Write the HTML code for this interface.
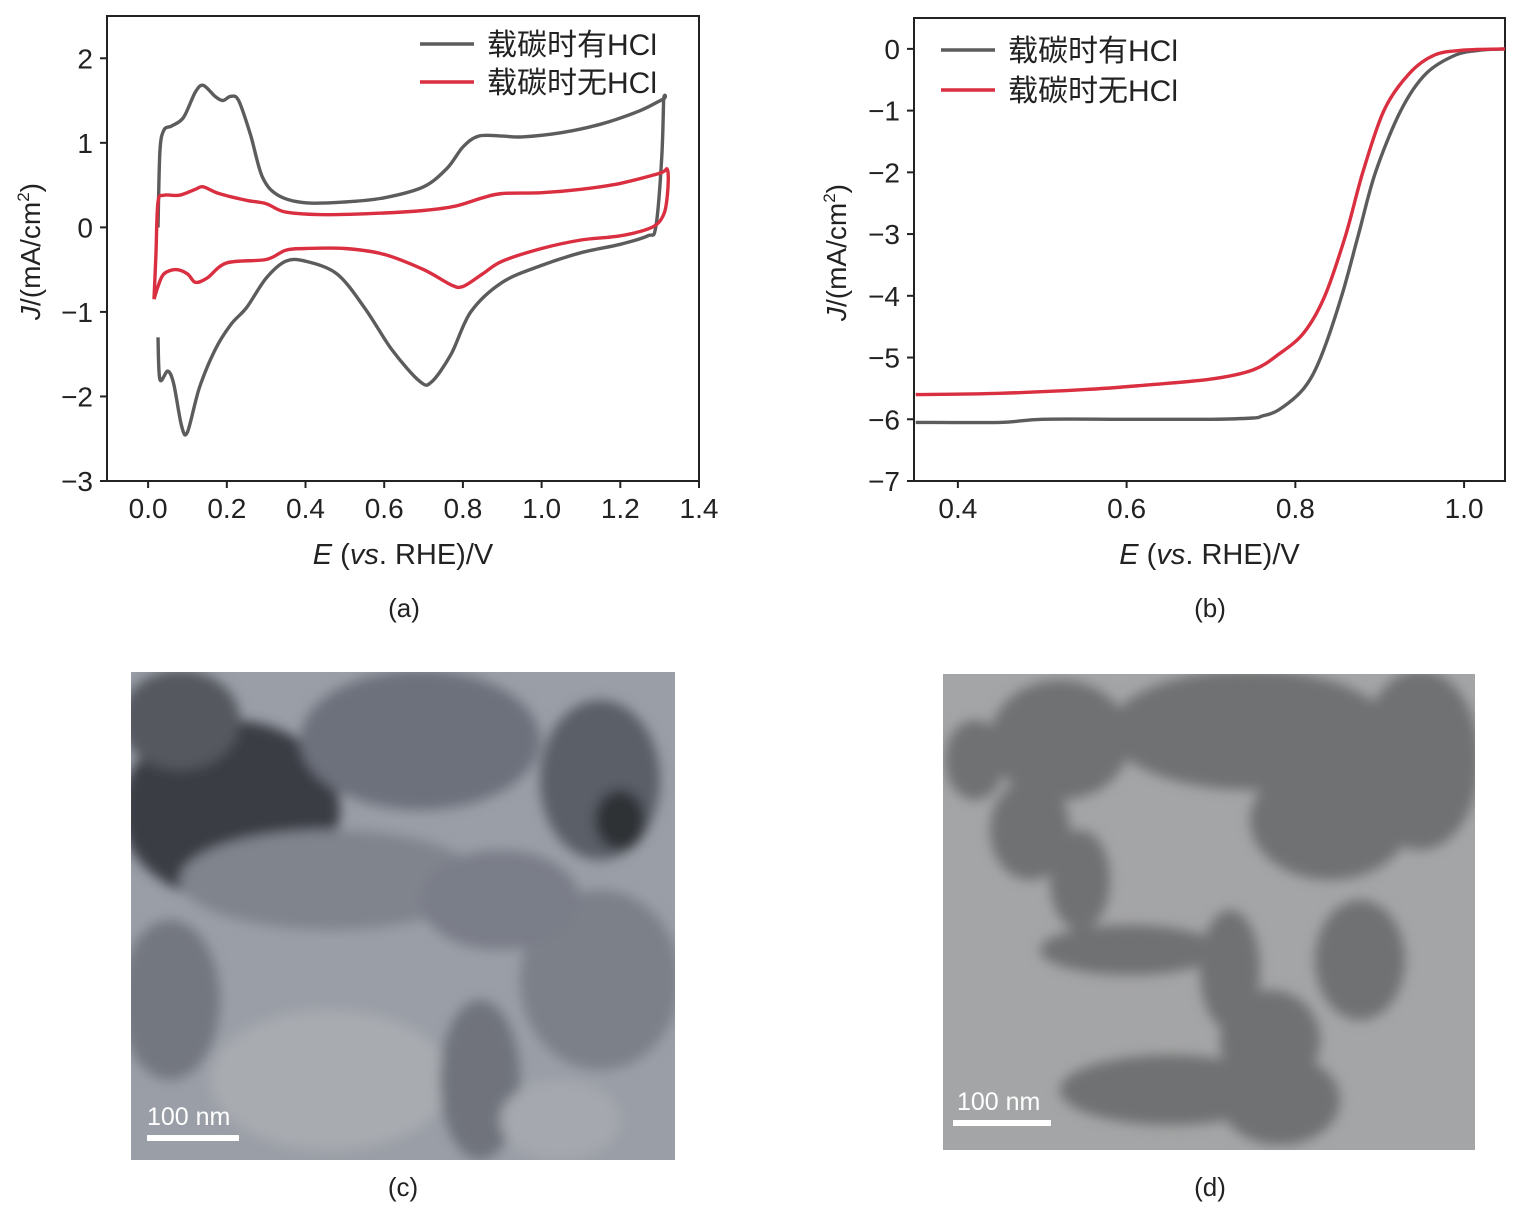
<!DOCTYPE html>
<html><head><meta charset="utf-8"><style>
body{margin:0;background:#fff;}
svg text{font-family:"Liberation Sans","Noto Sans CJK SC",sans-serif;fill:#222;}
</style></head><body>
<svg id="fig" width="1519" height="1210" viewBox="0 0 1519 1210" xmlns="http://www.w3.org/2000/svg">
<defs>
<filter id="blur6"><feGaussianBlur stdDeviation="6"/></filter>
<clipPath id="clipA"><rect x="107" y="16" width="592" height="465"/></clipPath>
<clipPath id="clipB"><rect x="914" y="18" width="591" height="463"/></clipPath>
<clipPath id="clipC"><rect x="131" y="672" width="544" height="488"/></clipPath>
<clipPath id="clipD"><rect x="943" y="674" width="532" height="476"/></clipPath>
</defs>
<g id="chartA"></g>
<g id="chartB"></g>

<g clip-path="url(#clipC)">
<rect x="131" y="672" width="544" height="488" fill="#9a9ea6"/>
<g filter="url(#blur6)">
<ellipse cx="230" cy="810" rx="110" ry="90" fill="#3a3d45"/>
<ellipse cx="180" cy="720" rx="60" ry="50" fill="#55585f"/>
<ellipse cx="420" cy="740" rx="120" ry="70" fill="#6d717b"/>
<ellipse cx="600" cy="780" rx="60" ry="80" fill="#5a5e68"/>
<ellipse cx="620" cy="820" rx="25" ry="30" fill="#2e3036"/>
<ellipse cx="330" cy="880" rx="150" ry="50" fill="#80848d"/>
<ellipse cx="170" cy="1000" rx="50" ry="80" fill="#737780"/>
<ellipse cx="330" cy="1080" rx="120" ry="70" fill="#a8abb0"/>
<ellipse cx="480" cy="1080" rx="40" ry="80" fill="#6f737c"/>
<ellipse cx="600" cy="980" rx="80" ry="90" fill="#7c8089"/>
<ellipse cx="500" cy="900" rx="80" ry="50" fill="#7a7e88"/>
<ellipse cx="560" cy="1120" rx="60" ry="40" fill="#a5a8ae"/>
</g>
<rect x="147" y="1135" width="92" height="6" fill="#fff"/>
<text x="147" y="1125" font-size="25" style="fill:#fff">100 nm</text>
</g>

<g clip-path="url(#clipD)">
<rect x="943" y="674" width="532" height="476" fill="#a4a5a6"/>
<g filter="url(#blur6)" fill="#707172">
<ellipse cx="1060" cy="740" rx="70" ry="60"/>
<ellipse cx="1250" cy="730" rx="140" ry="60"/>
<ellipse cx="1420" cy="760" rx="60" ry="90"/>
<ellipse cx="1330" cy="820" rx="80" ry="60"/>
<ellipse cx="1030" cy="830" rx="40" ry="50"/>
<ellipse cx="1130" cy="950" rx="90" ry="25"/>
<ellipse cx="1080" cy="880" rx="30" ry="50"/>
<ellipse cx="1230" cy="970" rx="30" ry="60"/>
<ellipse cx="1360" cy="960" rx="45" ry="60"/>
<ellipse cx="1270" cy="1040" rx="50" ry="50"/>
<ellipse cx="1170" cy="1090" rx="110" ry="35"/>
<ellipse cx="1280" cy="1100" rx="60" ry="45"/>
<ellipse cx="975" cy="760" rx="30" ry="40"/>
</g>
<rect x="953" y="1120" width="98" height="6" fill="#fff"/>
<text x="957" y="1110" font-size="25" style="fill:#fff">100 nm</text>
</g>

<text x="404" y="617" font-size="26" text-anchor="middle">(a)</text>
<text x="1210" y="617" font-size="26" text-anchor="middle">(b)</text>
<text x="403" y="1196" font-size="26" text-anchor="middle">(c)</text>
<text x="1210" y="1196" font-size="26" text-anchor="middle">(d)</text>
</svg>
<script>
// ---- Chart A data (CV) ----
const aXTicks = [0.0,0.2,0.4,0.6,0.8,1.0,1.2,1.4];
const aYTicks = [2,1,0,-1,-2,-3];
const aGrayE = [0.025,0.03,0.04,0.06,0.09,0.12,0.14,0.17,0.19,0.21,0.23,0.26,0.29,0.33,0.4,0.5,0.6,0.7,0.76,0.8,0.84,0.9,0.95,1.05,1.15,1.25,1.31,1.31,1.305,1.29,1.27,1.2,1.1,1.0,0.9,0.82,0.77,0.72,0.69,0.62,0.55,0.48,0.4,0.35,0.3,0.25,0.21,0.17,0.13,0.1,0.085,0.065,0.05,0.03,0.025];
const aGrayJ = [0.0,0.9,1.15,1.2,1.3,1.6,1.68,1.55,1.5,1.55,1.5,1.1,0.6,0.38,0.29,0.3,0.35,0.48,0.7,0.95,1.08,1.08,1.07,1.12,1.22,1.38,1.52,1.5,0.8,0.0,-0.1,-0.2,-0.3,-0.45,-0.65,-1.0,-1.5,-1.83,-1.82,-1.45,-0.95,-0.55,-0.4,-0.4,-0.6,-0.95,-1.15,-1.45,-1.9,-2.42,-2.35,-1.85,-1.7,-1.8,-1.3];
const aRedE = [0.015,0.02,0.025,0.04,0.08,0.12,0.14,0.18,0.25,0.3,0.35,0.45,0.6,0.7,0.78,0.85,0.9,1.0,1.1,1.2,1.3,1.32,1.32,1.31,1.28,1.2,1.1,1.0,0.9,0.85,0.8,0.77,0.7,0.6,0.5,0.4,0.35,0.3,0.2,0.15,0.12,0.1,0.07,0.04,0.025,0.015];
const aRedJ = [-0.85,-0.3,0.3,0.38,0.38,0.45,0.48,0.4,0.32,0.28,0.18,0.15,0.17,0.2,0.25,0.35,0.4,0.41,0.45,0.52,0.64,0.68,0.4,0.15,0.0,-0.1,-0.15,-0.25,-0.4,-0.55,-0.7,-0.68,-0.5,-0.32,-0.25,-0.25,-0.27,-0.38,-0.42,-0.6,-0.65,-0.55,-0.5,-0.55,-0.7,-0.85];
// ---- Chart B data (LSV) ----
const bXTicks = [0.4,0.6,0.8,1.0];
const bYTicks = [0,-1,-2,-3,-4,-5,-6,-7];
const bGrayE = [0.35,0.45,0.5,0.6,0.7,0.75,0.76,0.78,0.81,0.83,0.855,0.875,0.895,0.925,0.955,0.99,1.02,1.05];
const bGrayJ = [-6.05,-6.05,-6.0,-6.0,-6.0,-5.98,-5.95,-5.85,-5.5,-5.0,-4.0,-3.0,-2.0,-1.0,-0.4,-0.1,-0.02,0];
const bRedE = [0.35,0.45,0.55,0.62,0.7,0.75,0.78,0.81,0.835,0.86,0.88,0.905,0.935,0.965,1.0,1.05];
const bRedJ = [-5.6,-5.58,-5.52,-5.45,-5.35,-5.2,-4.95,-4.6,-4.0,-3.0,-2.0,-1.0,-0.4,-0.1,-0.02,0];
const legendLabels = ["载碳时有HCl","载碳时无HCl"];

const NS="http://www.w3.org/2000/svg";
function mk(tag,attrs,parent){const e=document.createElementNS(NS,tag);for(const k in attrs)e.setAttribute(k,attrs[k]);parent.appendChild(e);return e;}
function smooth(pts){
  let d='M'+pts[0][0].toFixed(1)+','+pts[0][1].toFixed(1);
  for(let i=0;i<pts.length-1;i++){
    const p0=pts[Math.max(0,i-1)],p1=pts[i],p2=pts[i+1],p3=pts[Math.min(pts.length-1,i+2)];
    const t=0.16;
    const c1=[p1[0]+(p2[0]-p0[0])*t,p1[1]+(p2[1]-p0[1])*t];
    const c2=[p2[0]-(p3[0]-p1[0])*t,p2[1]-(p3[1]-p1[1])*t];
    d+=' C'+c1[0].toFixed(1)+','+c1[1].toFixed(1)+' '+c2[0].toFixed(1)+','+c2[1].toFixed(1)+' '+p2[0].toFixed(1)+','+p2[1].toFixed(1);
  }
  return d;
}

function drawChart(g,o){
  const sx=v=>o.x0+(v-o.xmin)/(o.xmax-o.xmin)*(o.x1-o.x0);
  const sy=v=>o.y1-(v-o.ymin)/(o.ymax-o.ymin)*(o.y1-o.y0);
  const fr=mk('rect',{x:o.x0,y:o.y0,width:o.x1-o.x0,height:o.y1-o.y0,fill:'none',stroke:'#222','stroke-width':2},g);
  
  
  o.xt.forEach(v=>{
    mk('line',{x1:sx(v),x2:sx(v),y1:o.y1,y2:o.y1+7,stroke:'#222','stroke-width':2},g);
    const t=mk('text',{x:sx(v),y:o.y1+37,'font-size':28,'text-anchor':'middle'},g);
    t.textContent=v.toFixed(1);
    
    
  });
  o.yt.forEach(v=>{
    mk('line',{x1:o.x0-7,x2:o.x0,y1:sy(v),y2:sy(v),stroke:'#222','stroke-width':2},g);
    const t=mk('text',{x:o.x0-14,y:sy(v)+10,'font-size':28,'text-anchor':'end'},g);
    t.textContent=v<0?'\u2212'+Math.abs(v):String(v);
    
    
  });
  const pg=mk('g',{'clip-path':o.clip},g);
  o.series.forEach((s,i)=>{
    const d=smooth(s.e.map((e,k)=>[sx(e),sy(s.j[k])]));
    const p=mk('path',{d:d,fill:'none',stroke:s.c,'stroke-width':3.4,'stroke-linejoin':'round'},pg);
    
    
    const ly=o.ly+i*o.lgap;
    mk('line',{x1:o.lx,x2:o.lx+54,y1:ly,y2:ly,stroke:s.c,'stroke-width':3.4},g);
    const t=mk('text',{x:o.lx+67,y:ly+11,'font-size':30},g);
    t.textContent=legendLabels[i];
    
    
  });
  const xl=mk('text',{x:(o.x0+o.x1)/2,y:o.y1+83,'font-size':29,'text-anchor':'middle'},g);
  xl.innerHTML='<tspan font-style="italic">E</tspan> (<tspan font-style="italic">vs</tspan>. RHE)/V';
  
  
  const yl=mk('text',{x:0,y:0,'font-size':28,'text-anchor':'middle',transform:`translate(${o.ylx},${(o.y0+o.y1)/2+3}) rotate(-90)`},g);
  yl.innerHTML='<tspan font-style="italic">J</tspan>/(mA/cm<tspan font-size="17" dy="-11">2</tspan><tspan dy="11">)</tspan>';
  
  
}
drawChart(document.getElementById('chartA'),{x0:107,x1:699,y0:16,y1:481,xmin:-0.1045,xmax:1.4,ymin:-3,ymax:2.5,
  xt:aXTicks,yt:aYTicks,clip:'url(#clipA)',lx:420,ly:44,lgap:38,ylx:40,
  series:[{e:aGrayE,j:aGrayJ,c:'#5c5c5c',name:'series-with-hcl'},{e:aRedE,j:aRedJ,c:'#d92f40',name:'series-without-hcl'}]});
drawChart(document.getElementById('chartB'),{x0:914,x1:1505,y0:18,y1:481,xmin:0.348,xmax:1.0485,ymin:-7,ymax:0.5,
  xt:bXTicks,yt:bYTicks,clip:'url(#clipB)',lx:941,ly:50,lgap:40,ylx:846,
  series:[{e:bGrayE,j:bGrayJ,c:'#5c5c5c',name:'series-with-hcl'},{e:bRedE,j:bRedJ,c:'#d92f40',name:'series-without-hcl'}]});
</script>
</body></html>
